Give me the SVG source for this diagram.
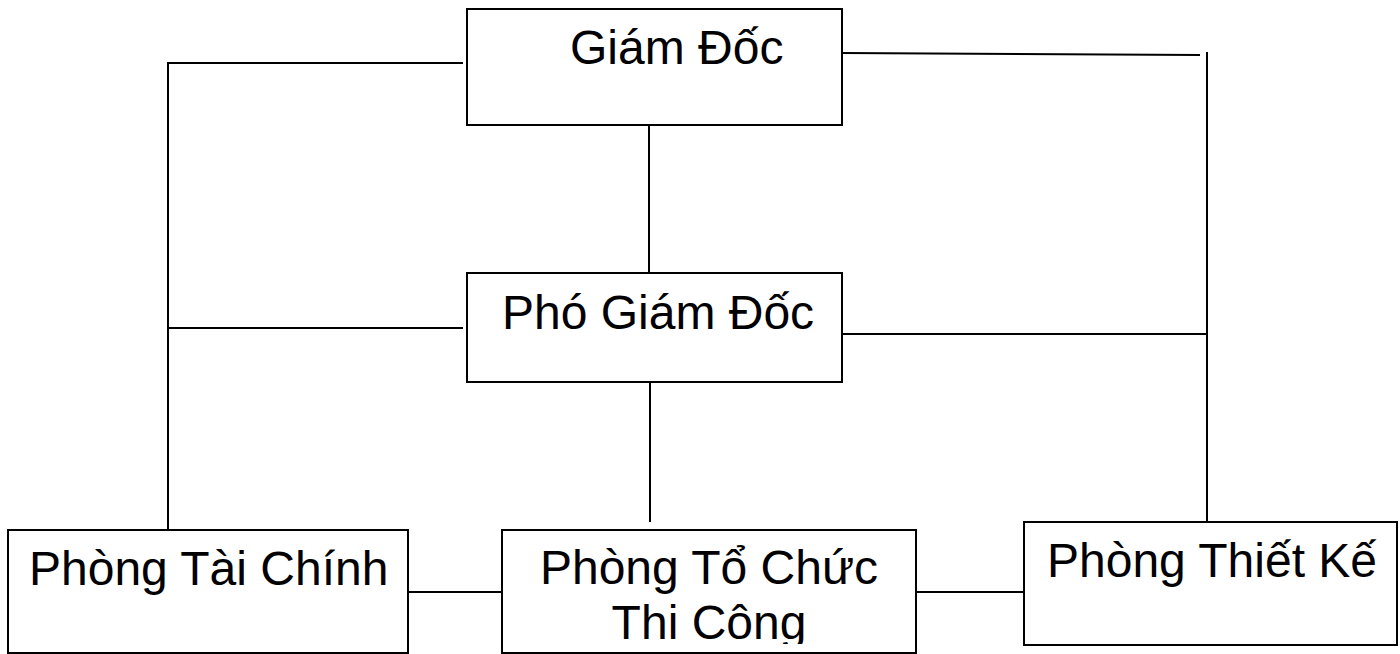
<svg xmlns="http://www.w3.org/2000/svg" width="1400" height="654" viewBox="0 0 1400 654">
<style>
.box{fill:#fff;stroke:#000;stroke-width:2}
.ln{stroke:#000;stroke-width:2;fill:none}
text{font-family:"Liberation Sans",Arial,sans-serif;font-size:48px;fill:#000}
</style>
<defs>
<clipPath id="clipTC"><rect x="502" y="530" width="414" height="114"/></clipPath>
</defs>
<rect width="1400" height="654" fill="#fff"/>
<g id="connectors">
<path class="ln" d="M463 63 H168 V530"/>
<path class="ln" d="M168 328 H463"/>
<path class="ln" d="M843 53 L1200 55"/>
<path class="ln" d="M1207 52 V522"/>
<path class="ln" d="M843 334 H1208"/>
<path class="ln" d="M649 125 V273"/>
<path class="ln" d="M650 382 V522"/>
<path class="ln" d="M408 592 H502"/>
<path class="ln" d="M916 592 H1024"/>
</g>
<g id="giamdoc">
<rect class="box" x="467" y="9" width="375" height="116"/>
<text x="570" y="64">Giám Đốc</text>
</g>
<g id="phogiamdoc">
<rect class="box" x="467" y="273" width="375" height="109"/>
<text x="502" y="329">Phó Giám Đốc</text>
</g>
<g id="taichinh">
<rect class="box" x="8" y="530" width="400" height="123"/>
<text x="29" y="585">Phòng Tài Chính</text>
</g>
<g id="tochuc">
<rect class="box" x="502" y="530" width="414" height="123"/>
<g clip-path="url(#clipTC)">
<text x="709" y="584" text-anchor="middle">Phòng Tổ Chức</text>
<text x="709" y="639" text-anchor="middle">Thi Công</text>
</g>
</g>
<g id="thietke">
<rect class="box" x="1024" y="522" width="373" height="123"/>
<text x="1047" y="577">Phòng Thiết Kế</text>
</g>
</svg>
